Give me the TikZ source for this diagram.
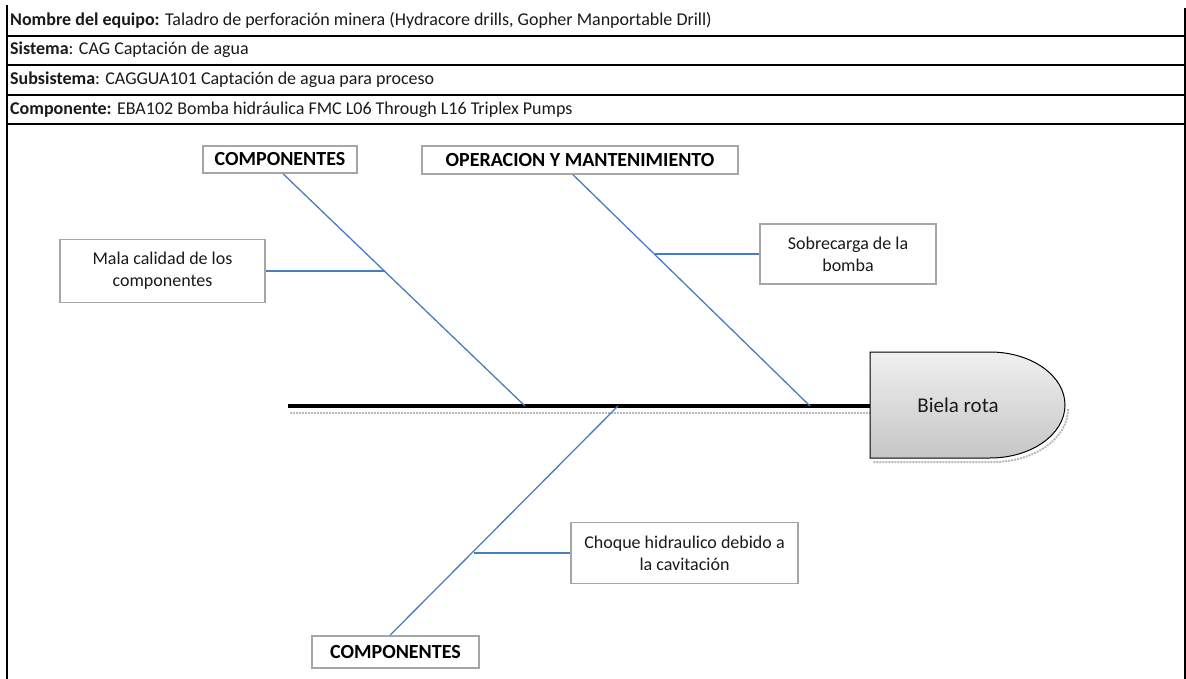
\documentclass[tikz,border=0pt]{standalone}
\usepackage{fontspec}
\setmainfont{Carlito}
\usetikzlibrary{positioning}
\definecolor{fbBone}{HTML}{4A7EBB}
\definecolor{fbFrame}{HTML}{A6A6A6}
\definecolor{fbInk}{HTML}{1A1A1A}
\tikzset{
  fb rule/.style={draw=black, line width=1.3pt},
  fb thick rule/.style={draw=black, line width=2.2pt},
  fb row/.style={anchor=west, inner sep=0pt, font=\fontsize{18}{19}\selectfont, text=fbInk},
  fb bone/.style={draw=fbBone, line width=1.3pt},
  fb spine/.style={draw=black, line width=4pt},
  fb shadow/.style={draw=gray!55, densely dotted, line width=2pt},
  fb group/.style={draw=fbFrame, line width=1.5pt, fill=white, inner sep=0pt, font=\fontsize{20}{22}\selectfont\bfseries, text=black},
  fb cause/.style={draw=fbFrame, line width=1.5pt, fill=white, inner sep=0pt, align=center, font=\fontsize{18}{22}\selectfont, text=fbInk},
  fb head/.style={draw=black, line width=1pt, top color=gray!12, bottom color=gray!45},
}

\begin{document}
\begin{tikzpicture}[x=1pt,y=-1pt]
\useasboundingbox(0,0)rectangle(1186,679);
% ficha del equipo
\draw[fb rule](7,5)--(7,679);\draw[fb rule](1185,8)--(1185,679);
\draw[fb thick rule](7,36)--(1185,36);\draw[fb rule](7,65)--(1185,65);
\draw[fb thick rule](7,95)--(1185,95);\draw[fb rule](7,124)--(1185,124);
\node[fb row](rowA)at(10,20){\textbf{Nombre del equipo:} Taladro de perforación minera (Hydracore drills, Gopher Manportable Drill)};
\node[fb row](rowB)at(10,50){\textbf{Sistema}: CAG Captación de agua};
\node[fb row](rowC)at(10,80){\textbf{Subsistema}: CAGGUA101 Captación de agua para proceso};
\node[fb row](rowD)at(10,110){\textbf{Componente:} EBA102 Bomba hidráulica FMC L06 Through L16 Triplex Pumps};
% espina y cabeza
\coordinate(tail)at(288,406);\coordinate(neck)at(870,406);
\coordinate(j1)at(525,406);\coordinate(j2)at(810,406);\coordinate(j3)at(618,406);
\draw[fb shadow](290,413)--(872,413);
\draw[fb shadow](1068,409)arc[start angle=0,end angle=90,x radius=75,y radius=53]--(873,462);
\draw[fb spine](tail)--(neck);
\path[fb head](870,352)--(990,352)arc[start angle=-90,end angle=90,x radius=75,y radius=53]--(870,458)--cycle;
\node[font=\fontsize{21}{23}\selectfont,text=fbInk](head)at(958,405){Biela rota};
% categorias
\node[fb group,minimum width=154pt,minimum height=27pt](grpA)at(280,159.5){COMPONENTES};
\node[fb group,minimum width=316pt,minimum height=28pt](grpB)at(580,160){OPERACION Y MANTENIMIENTO};
\node[fb group,minimum width=167pt,minimum height=32pt](grpC)at(395.5,652){COMPONENTES};
% causas
\node[fb cause,minimum width=205pt,minimum height=63pt](causeA)at(162.5,271){Mala calidad de los\\componentes};
\node[fb cause,minimum width=176pt,minimum height=60pt](causeB)at(848,254){Sobrecarga de la\\bomba};
\node[fb cause,minimum width=227pt,minimum height=61pt](causeC)at(684.5,553){Choque hidraulico debido a\\la cavitación};
\coordinate(m1)at(385,271);\coordinate(m2)at(655,254);\coordinate(m3)at(474,553);
\draw[fb bone]([xshift=3pt]grpA.south)--(j1);
\draw[fb bone]([xshift=-7pt]grpB.south)--(j2);
\draw[fb bone]([xshift=-5.5pt]grpC.north)--(j3);
\draw[fb bone](causeA.east)--(m1);
\draw[fb bone](causeB.west)--(m2);
\draw[fb bone](causeC.west)--(m3);
\end{tikzpicture}
\end{document}
